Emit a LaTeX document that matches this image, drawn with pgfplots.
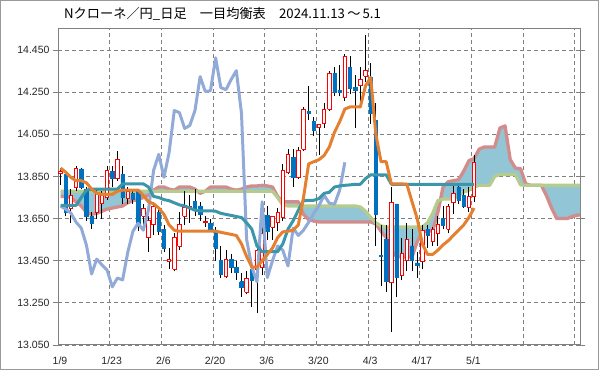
\documentclass[border=0pt]{standalone}
\usepackage{fontspec}
\setmainfont{Liberation Sans}
\newfontfamily\jp{Noto Sans CJK JP}
\usepackage{pgfplots}
\usepackage{pgfplotstable}
\pgfplotsset{compat=1.18}
\usepgfplotslibrary{fillbetween}

\definecolor{tenkan}{RGB}{228,128,48}
\definecolor{kijun}{RGB}{58,150,168}
\definecolor{chikou}{RGB}{145,170,215}
\definecolor{spanA}{RGB}{181,204,142}
\definecolor{spanB}{RGB}{210,140,140}
\definecolor{cloud}{RGB}{146,197,214}
\definecolor{upred}{RGB}{255,0,0}
\definecolor{downblue}{RGB}{0,112,192}
\definecolor{gridgray}{RGB}{128,128,128}

% day open high low close
\pgfplotstableread{
d o h l c
0 13.863 13.89 13.81 13.876
1 13.86 13.87 13.66 13.68
2 13.70 13.79 13.63 13.76
3 13.796 13.90 13.78 13.886
4 13.886 13.89 13.79 13.80
5 13.79 13.80 13.64 13.66
6 13.66 13.68 13.60 13.63
7 13.68 13.79 13.65 13.77
8 13.72 13.78 13.65 13.76
9 13.75 13.90 13.74 13.88
10 13.875 13.90 13.80 13.84
11 13.84 13.97 13.83 13.93
12 13.86 13.90 13.72 13.75
13 13.745 13.80 13.72 13.78
14 13.77 13.79 13.72 13.74
15 13.78 13.79 13.59 13.615
16 13.66 13.72 13.62 13.70
17 13.56 13.66 13.49 13.64
18 13.62 13.73 13.57 13.71
19 13.68 13.70 13.57 13.59
20 13.60 13.62 13.49 13.51
21 13.445 13.51 13.41 13.455
22 13.41 13.58 13.40 13.56
23 13.52 13.68 13.50 13.62
24 13.66 13.78 13.62 13.705
25 13.70 13.76 13.63 13.71
26 13.73 13.79 13.66 13.695
27 13.71 13.73 13.64 13.67
28 13.63 13.66 13.61 13.635
29 13.63 13.65 13.59 13.60
30 13.59 13.61 13.45 13.51
31 13.45 13.52 13.37 13.385
32 13.375 13.50 13.37 13.456
33 13.456 13.48 13.39 13.42
34 13.42 13.45 13.36 13.395
35 13.35 13.39 13.28 13.325
36 13.30 13.40 13.29 13.365
37 13.41 13.45 13.23 13.355
38 13.41 13.52 13.20 13.50
39 13.42 13.62 13.38 13.58
40 13.665 13.71 13.55 13.59
41 13.61 13.66 13.55 13.66
42 13.63 13.70 13.59 13.68
43 13.655 13.91 13.64 13.88
44 13.87 13.98 13.86 13.955
45 13.94 13.98 13.80 13.845
46 13.845 13.99 13.84 13.975
47 13.98 14.18 13.97 14.17
48 14.16 14.28 14.12 14.15
49 14.11 14.13 14.04 14.07
50 14.085 14.10 13.95 14.095
51 14.10 14.20 14.08 14.17
52 14.17 14.35 14.16 14.34
53 14.34 14.37 14.23 14.25
54 14.26 14.38 14.23 14.25
55 14.225 14.43 14.21 14.42
56 14.37 14.42 14.24 14.27
57 14.273 14.33 14.08 14.26
58 14.28 14.37 14.18 14.31
59 14.325 14.52 14.30 14.355
60 14.32 14.39 14.10 14.15
61 14.115 14.20 13.52 13.67
62 13.477 13.62 13.33 13.47
63 13.55 13.62 13.30 13.35
64 13.345 13.80 13.11 13.727
65 13.72 13.72 13.28 13.37
66 13.38 13.56 13.36 13.486
67 13.45 13.63 13.40 13.55
68 13.52 13.60 13.40 13.45
69 13.44 13.49 13.37 13.43
70 13.445 13.62 13.41 13.595
71 13.60 13.62 13.51 13.57
72 13.54 13.61 13.52 13.60
73 13.58 13.66 13.52 13.62
74 13.65 13.71 13.60 13.62
75 13.60 13.72 13.58 13.71
76 13.725 13.81 13.67 13.77
77 13.80 13.82 13.72 13.735
78 13.76 13.79 13.70 13.71
79 13.705 13.80 13.68 13.757
80 13.753 13.95 13.73 13.918
}\candles

\pgfplotstableread{
d v
0 13.89
1 13.87
2 13.845
3 13.83
4 13.83
5 13.82
6 13.79
7 13.77
8 13.765
9 13.765
10 13.765
11 13.78
12 13.785
13 13.785
14 13.785
15 13.785
16 13.76
17 13.73
18 13.72
19 13.70
20 13.67
21 13.62
22 13.595
23 13.59
24 13.59
25 13.59
26 13.59
27 13.59
28 13.59
29 13.59
30 13.59
31 13.585
32 13.58
33 13.575
34 13.57
35 13.53
36 13.47
37 13.42
38 13.42
39 13.45
40 13.48
41 13.51
42 13.56
43 13.587
44 13.59
45 13.595
46 13.62
47 13.75
48 13.91
49 13.92
50 13.93
51 13.95
52 13.99
53 14.06
54 14.11
55 14.17
56 14.18
57 14.18
58 14.18
59 14.28
60 14.32
61 14.05
62 13.92
63 13.92
64 13.815
65 13.815
66 13.815
67 13.813
68 13.73
69 13.65
70 13.53
71 13.48
72 13.48
73 13.50
74 13.525
75 13.545
76 13.57
77 13.595
78 13.62
79 13.655
80 13.70
}\tenkantab

\pgfplotstableread{
d v
0 13.713
1 13.713
2 13.713
3 13.713
4 13.75
5 13.785
6 13.79
7 13.79
8 13.79
9 13.79
10 13.79
11 13.79
12 13.815
13 13.815
14 13.815
15 13.815
16 13.815
17 13.80
18 13.755
19 13.75
20 13.74
21 13.735
22 13.725
23 13.715
24 13.71
25 13.70
26 13.69
27 13.687
28 13.687
29 13.687
30 13.685
31 13.675
32 13.67
33 13.665
34 13.66
35 13.655
36 13.63
37 13.60
38 13.52
39 13.493
40 13.493
41 13.493
42 13.493
43 13.53
44 13.60
45 13.64
46 13.69
47 13.735
48 13.737
49 13.737
50 13.745
51 13.77
52 13.775
53 13.80
54 13.805
55 13.808
56 13.81
57 13.813
58 13.813
59 13.84
60 13.858
61 13.858
62 13.858
63 13.858
64 13.813
65 13.813
66 13.813
67 13.813
68 13.813
69 13.813
70 13.813
71 13.813
72 13.813
73 13.813
74 13.813
75 13.813
76 13.813
77 13.813
78 13.813
79 13.813
80 13.813
}\kijuntab

\pgfplotstableread{
d v
0 13.709
1 13.695
2 13.676
3 13.633
4 13.605
5 13.524
6 13.387
7 13.458
8 13.430
9 13.406
10 13.326
11 13.368
12 13.359
13 13.49
14 13.59
15 13.628
16 13.595
17 13.69
18 13.879
19 13.955
20 13.846
21 13.964
22 14.163
23 14.153
24 14.078
25 14.092
26 14.163
27 14.324
28 14.253
29 14.257
30 14.413
31 14.272
32 14.262
33 14.31
34 14.352
35 14.15
36 13.55
37 13.42
38 13.35
39 13.73
40 13.37
41 13.45
42 13.52
43 13.50
44 13.425
45 13.605
46 13.57
47 13.595
48 13.633
49 13.675
50 13.713
51 13.76
52 13.723
53 13.718
54 13.785
55 13.917
}\chikoutab

\pgfplotstableread{
d a b
0 13.78 13.755
1 13.78 13.755
2 13.78 13.75
3 13.78 13.73
4 13.78 13.71
5 13.78 13.68
6 13.78 13.67
7 13.78 13.675
8 13.78 13.685
9 13.78 13.695
10 13.78 13.70
11 13.78 13.705
12 13.78 13.71
13 13.78 13.725
14 13.78 13.735
15 13.78 13.74
16 13.78 13.75
17 13.78 13.76
18 13.78 13.785
19 13.78 13.80
20 13.78 13.80
21 13.78 13.79
22 13.78 13.785
23 13.78 13.80
24 13.78 13.80
25 13.78 13.80
26 13.78 13.79
27 13.78 13.77
28 13.78 13.78
29 13.78 13.80
30 13.78 13.80
31 13.78 13.80
32 13.78 13.80
33 13.78 13.79
34 13.78 13.785
35 13.78 13.79
36 13.78 13.80
37 13.78 13.805
38 13.78 13.805
39 13.78 13.808
40 13.78 13.805
41 13.78 13.80
42 13.75 13.755
43 13.715 13.73
44 13.71 13.73
45 13.71 13.73
46 13.71 13.73
47 13.71 13.67
48 13.71 13.645
49 13.71 13.638
50 13.71 13.634
51 13.71 13.634
52 13.71 13.634
53 13.71 13.634
54 13.71 13.634
55 13.71 13.634
56 13.71 13.634
57 13.71 13.634
58 13.705 13.634
59 13.685 13.634
60 13.655 13.634
61 13.63 13.625
62 13.615 13.59
63 13.61 13.56
64 13.61 13.50
65 13.61 13.47
66 13.61 13.468
67 13.61 13.468
68 13.61 13.468
69 13.61 13.54
70 13.61 13.587
71 13.63 13.59
72 13.675 13.592
73 13.735 13.68
74 13.743 13.80
75 13.743 13.825
76 13.743 13.83
77 13.76 13.835
78 13.776 13.875
79 13.785 13.925
80 13.80 13.935
81 13.808 13.98
82 13.808 13.99
83 13.808 13.99
84 13.85 13.99
85 13.86 14.08
86 13.86 14.09
87 13.86 13.93
88 13.86 13.89
89 13.81 13.887
90 13.808 13.815
91 13.808 13.808
92 13.808 13.808
93 13.808 13.808
94 13.808 13.76
95 13.808 13.70
96 13.808 13.65
97 13.808 13.65
98 13.808 13.65
99 13.808 13.66
100 13.808 13.666
101 13.808 13.67
}\spantab

\begin{document}
\begin{tikzpicture}
\begin{axis}[
  at={(58bp,25bp)}, anchor=south west,
  scale only axis, width=522bp, height=316bp,
  xmin=0, xmax=101, ymin=13.05, ymax=14.55,
  xtick={0,10,...,100},
  xticklabels={1/9,1/23,2/6,2/20,3/6,3/20,4/3,4/17,5/1,{},{}},
  ytick={13.05,13.25,13.45,13.65,13.85,14.05,14.25,14.45},
  /pgf/number format/assume math mode=true,
  yticklabel style={/pgf/number format/.cd, fixed, fixed zerofill, precision=3},
  ticklabel style={font=\fontsize{10.5bp}{12bp}\selectfont, text=black!85},
  grid=major,
  major grid style={draw=gridgray, dash pattern=on 4bp off 3bp, line width=0.8bp},
  axis line style={draw=gridgray, line width=1bp},
  tick align=outside, major tick length=5bp,
  ytick style={draw=gridgray, line width=0.8bp},
  xtick style={draw=none},
  xticklabel style={yshift=-3bp, xshift=2bp},
  clip=true,
]
% cloud
\addplot[draw=none, name path=A, forget plot] table[x expr=\thisrow{d}+0.5, y=a] {\spantab};
\addplot[draw=none, name path=B, forget plot] table[x expr=\thisrow{d}+0.5, y=b] {\spantab};
\addplot[cloud, fill=cloud, draw=none] fill between[of=A and B];
\addplot[spanB, line width=3.3bp, line join=round, no marks] table[x expr=\thisrow{d}+0.5, y=b] {\spantab};
\addplot[spanA, line width=3.3bp, line join=round, no marks] table[x expr=\thisrow{d}+0.5, y=a] {\spantab};
% candles
\pgfplotsinvokeforeach{0,...,80}{
  \pgfplotstablegetelem{#1}{o}\of\candles \edef\cO{\pgfplotsretval}
  \pgfplotstablegetelem{#1}{h}\of\candles \edef\cH{\pgfplotsretval}
  \pgfplotstablegetelem{#1}{l}\of\candles \edef\cL{\pgfplotsretval}
  \pgfplotstablegetelem{#1}{c}\of\candles \edef\cC{\pgfplotsretval}
  \pgfmathsetmacro\xm{#1+0.5}
  \pgfmathsetmacro\xa{#1+0.17}
  \pgfmathsetmacro\xb{#1+0.83}
  \pgfmathtruncatemacro\up{\cC>=\cO}
  \ifnum\up=1
    \edef\tmp{\noexpand\addplot[black, line width=0.9bp, no marks] coordinates {(\xm,\cL) (\xm,\cH)};
      \noexpand\addplot[draw=upred, fill=white, line width=0.9bp, no marks] coordinates {(\xa,\cO) (\xb,\cO) (\xb,\cC) (\xa,\cC) (\xa,\cO)};}
  \else
    \edef\tmp{\noexpand\addplot[black, line width=0.9bp, no marks] coordinates {(\xm,\cL) (\xm,\cH)};
      \noexpand\addplot[draw=downblue, fill=downblue, line width=0.6bp, no marks] coordinates {(\xa,\cO) (\xb,\cO) (\xb,\cC) (\xa,\cC) (\xa,\cO)};}
  \fi
  \tmp
}
\addplot[chikou, line width=3bp, line join=round, no marks] table[x expr=\thisrow{d}+0.5, y=v] {\chikoutab};
\addplot[kijun, line width=3bp, line join=round, no marks] table[x expr=\thisrow{d}+0.5, y=v] {\kijuntab};
\addplot[tenkan, line width=3bp, line join=round, no marks] table[x expr=\thisrow{d}+0.5, y=v] {\tenkantab};
\end{axis}
\node[anchor=base west, font=\jp\fontsize{13.2bp}{15bp}\selectfont, inner sep=0pt] at (64bp,351bp) {Nクローネ／円\_日足　一目均衡表　2024.11.13\,～\,5.1};
\draw[gridgray!80, line width=1bp] (0.5bp,0.5bp) rectangle (598.5bp,369.5bp);
\pgfresetboundingbox
\useasboundingbox (0,0) rectangle (599bp,370bp);
\end{tikzpicture}
\end{document}
